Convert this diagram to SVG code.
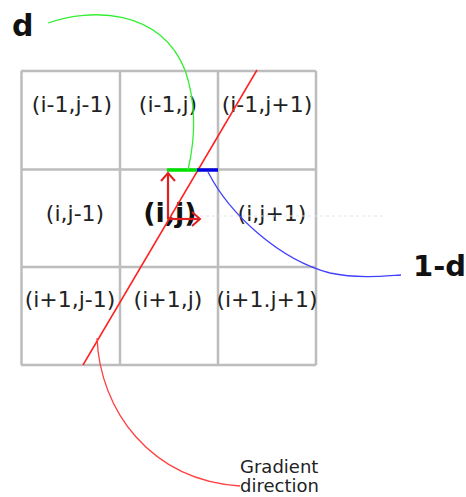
<svg xmlns="http://www.w3.org/2000/svg" width="466" height="497" viewBox="0 0 466 497">
<style>
.grid{stroke:#bdbdbd;stroke-width:2.5;fill:none}
.lbl{font-family:"DejaVu Sans",sans-serif;font-size:22px;fill:#222;text-anchor:middle}
.big{font-family:"DejaVu Sans",sans-serif;font-weight:bold;fill:#111}
.curve{fill:none;stroke-width:1.3}
</style>
<defs>
<marker id="ah" markerWidth="14" markerHeight="20" refX="10" refY="10" orient="auto" markerUnits="userSpaceOnUse">
<path d="M2,3 L10,10 L2,17" fill="none" stroke="#e02020" stroke-width="2"/>
</marker>
</defs>
<g id="grid">
<path class="grid" d="M21,71 H316 M21,169.5 H316 M21,267 H316 M21,365 H316 M21.5,71 V365 M120,71 V365 M218,71 V365 M316,71 V365"/>
</g>
<g id="cells">
<text class="lbl" x="72" y="112">(i-1,j-1)</text>
<text class="lbl" x="168" y="112">(i-1,j)</text>
<text class="lbl" x="267" y="112">(i-1,j+1)</text>
<text class="lbl" x="75" y="221">(i,j-1)</text>
<text class="big" x="170" y="222" font-size="27" text-anchor="middle">(i,j)</text>
<text class="lbl" x="272" y="221">(i,j+1)</text>
<text class="lbl" x="70" y="307">(i+1,j-1)</text>
<text class="lbl" x="168" y="307">(i+1,j)</text>
<text class="lbl" x="267" y="307">(i+1.j+1)</text>
</g>
<line x1="200" y1="216" x2="385" y2="216" stroke="#e4e4e4" stroke-width="1" stroke-dasharray="3,3"/>
<g id="connectors">
<line x1="83" y1="365" x2="257" y2="70" stroke="#ff2020" stroke-width="1.5"/>
<line x1="167" y1="170" x2="197" y2="170" stroke="#00e000" stroke-width="3.5"/>
<line x1="197" y1="170" x2="218" y2="170" stroke="#0000e0" stroke-width="3.5"/>
<line x1="168" y1="219" x2="168" y2="173" stroke="#e02020" stroke-width="2.2" marker-end="url(#ah)"/>
<line x1="168" y1="219" x2="200" y2="219" stroke="#e02020" stroke-width="2.2" marker-end="url(#ah)"/>
<path class="curve" stroke="#33ee33" d="M48,23 C90,8 160,8 185,70 C197,105 195,140 188,170"/>
<path class="curve" stroke="#4040ff" d="M208,172 C230,215 280,260 330,273 C360,279 385,276 401,275"/>
<path class="curve" stroke="#ff4040" d="M97,338 C100,410 150,480 240,486"/>
</g>
<g id="labels">
<text class="big" x="12" y="36" font-size="30">d</text>
<text class="big" x="413" y="276" font-size="29">1-d</text>
<text x="240" y="473" font-family="DejaVu Sans,sans-serif" font-size="18" fill="#222">Gradient</text>
<text x="240" y="492" font-family="DejaVu Sans,sans-serif" font-size="18" fill="#222">direction</text>
</g>
</svg>
